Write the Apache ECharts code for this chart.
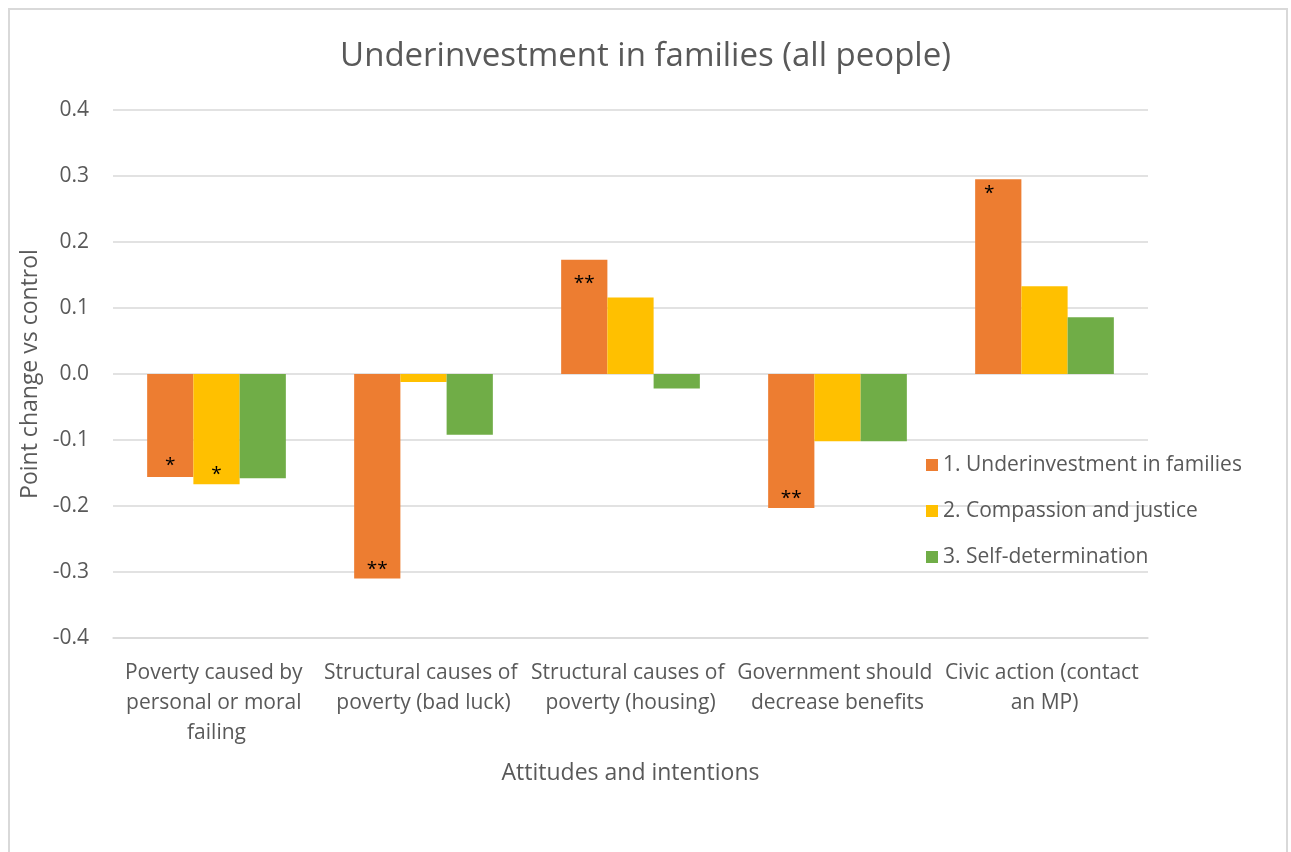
<!DOCTYPE html>
<html>
<head>
<meta charset="utf-8">
<script src="https://cdn.jsdelivr.net/npm/echarts@6/dist/echarts.min.js"></script>
<style>
  html, body { margin: 0; padding: 0; background: #ffffff; }
  #frame {
    position: absolute; left: 8px; top: 8px; width: 1280px; height: 860px;
    border: 2px solid #d9d9d9; box-sizing: border-box; background: #fff;
  }
  #chart { position: absolute; left: 0; top: 0; width: 1291px; height: 852px; }
</style>
</head>
<body>
<div id="frame"></div>
<div id="chart"></div>
<script>
// Attitude shifts against the control group, by message frame
const categories = [
  'Poverty caused by personal or moral failing',
  'Structural causes of poverty (bad luck)',
  'Structural causes of poverty (housing)',
  'Government should decrease benefits',
  'Civic action (contact an MP)'
];
const seriesNames = [
  '1. Underinvestment in families',
  '2. Compassion and justice',
  '3. Self-determination'
];
const underinvestment = [-0.156, -0.310, 0.173, -0.203, 0.295];
const compassion = [-0.167, -0.012, 0.116, -0.102, 0.133];
const selfDetermination = [-0.158, -0.092, -0.022, -0.102, 0.086];
// significance markers shown inside the bars
const underinvestmentStars = ['*', '**', '**', '**', '*'];
const compassionStars = ['*', '', '', '', ''];
const selfDeterminationStars = ['', '', '', '', ''];
const yTicks = [-0.4, -0.3, -0.2, -0.1, 0.0, 0.1, 0.2, 0.3, 0.4];

const colors = ['#ED7D31', '#FFC000', '#70AD47'];
const textGrey = '#595959';
const font = 'Open Sans';

// hand-placed marker nudges, keyed "series:category"
const starNudge = { '0:0': [0, -2], '0:2': [0, 6], '0:4': [-9, -3] };

function makeSeries(si, name, values, stars, color) {
  return {
    name: name,
    type: 'bar',
    barGap: '0%',
    barCategoryGap: '33%',
    itemStyle: { color: color },
    data: values.map(function (v, i) {
      return {
        value: v,
        label: {
          show: stars[i] !== '',
          formatter: stars[i],
          position: v >= 0 ? 'insideTop' : 'insideBottom',
          distance: v >= 0 ? 8 : 0,
          offset: starNudge[si + ':' + i] || [0, 0],
          color: '#000',
          fontSize: 19,
          fontFamily: font
        }
      };
    })
  };
}

const chart = echarts.init(document.getElementById('chart'), null, { renderer: 'canvas' });
chart.setOption({
  backgroundColor: 'transparent',
  animation: false,
  color: colors,
  title: {
    text: 'Underinvestment in families (all people)',
    left: 'center',
    top: 35,
    textStyle: { fontFamily: font, fontSize: 33, fontWeight: 'normal', color: textGrey }
  },
  legend: {
    orient: 'vertical',
    left: 921,
    top: 448,
    itemWidth: 12,
    itemHeight: 12,
    itemGap: 22,
    icon: 'rect',
    textStyle: { fontFamily: font, fontSize: 21, color: textGrey, lineHeight: 24 },
    data: seriesNames
  },
  grid: { left: 113, right: 143, top: 110, bottom: 214 },
  xAxis: {
    type: 'category',
    data: categories,
    name: 'Attitudes and intentions',
    nameLocation: 'middle',
    nameGap: 124,
    nameTextStyle: { fontFamily: font, fontSize: 23, color: textGrey },
    axisLine: { onZero: false, lineStyle: { color: '#d9d9d9', width: 1.5 } },
    axisTick: { show: false },
    axisLabel: {
      interval: 0,
      margin: 20,
      width: 205,
      overflow: 'break',
      lineHeight: 30,
      fontFamily: font,
      fontSize: 21,
      color: textGrey
    }
  },
  yAxis: {
    type: 'value',
    min: yTicks[0],
    max: yTicks[yTicks.length - 1],
    interval: 0.1,
    name: 'Point change vs control',
    nameLocation: 'middle',
    nameRotate: 90,
    nameGap: 58,
    nameTextStyle: { fontFamily: font, fontSize: 23, color: textGrey },
    axisLine: { show: false },
    axisTick: { show: false },
    axisLabel: {
      margin: 24,
      fontFamily: font,
      fontSize: 21,
      color: textGrey,
      formatter: function (v) { return v.toFixed(1); }
    },
    splitLine: { lineStyle: { color: '#d9d9d9', width: 1.5 } }
  },
  series: [
    makeSeries(0, seriesNames[0], underinvestment, underinvestmentStars, colors[0]),
    makeSeries(1, seriesNames[1], compassion, compassionStars, colors[1]),
    makeSeries(2, seriesNames[2], selfDetermination, selfDeterminationStars, colors[2])
  ]
});
</script>
</body>
</html>
